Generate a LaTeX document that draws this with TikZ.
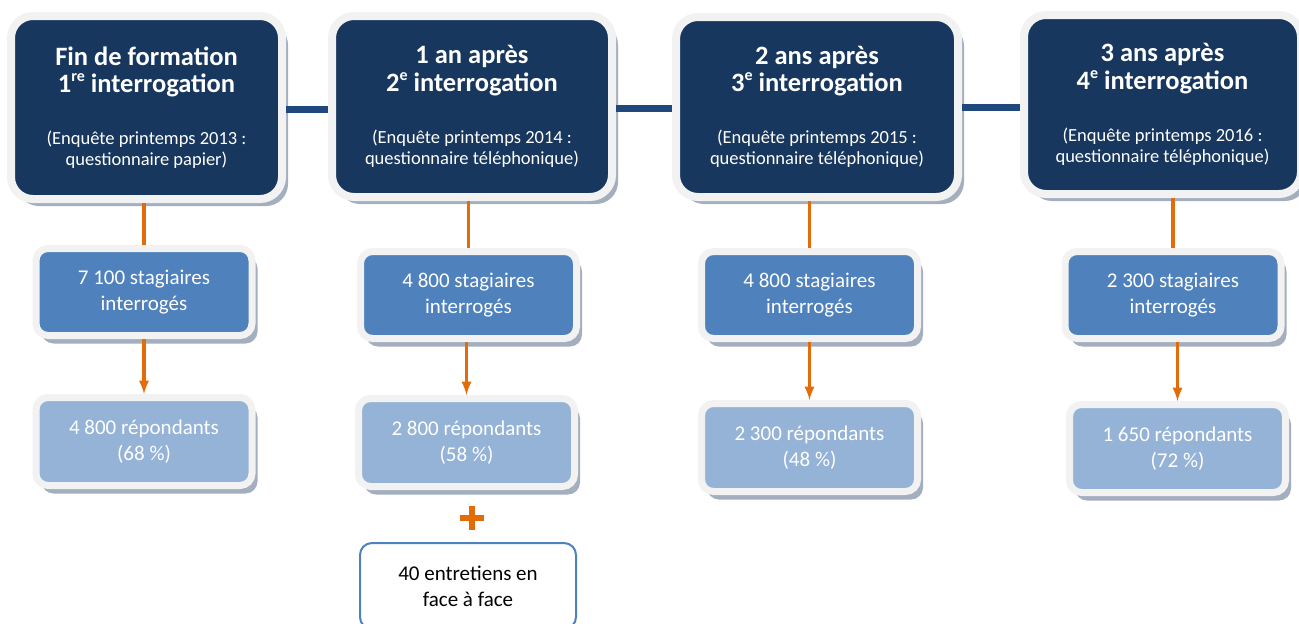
\documentclass[tikz,border=0pt]{standalone}
\usepackage{fontspec}
\setmainfont{Carlito}
\usepackage{tikz}
\usetikzlibrary{calc,shadows}

\definecolor{navy}{HTML}{17375E}
\definecolor{linkblue}{HTML}{1F497D}
\definecolor{midblue}{HTML}{4F81BD}
\definecolor{paleblue}{HTML}{95B3D7}
\definecolor{framegray}{HTML}{F2F2F2}
\definecolor{shadowgray}{HTML}{A3AEBE}
\definecolor{flowor}{HTML}{E36C09}

\newcommand{\surveyline}[1]{{\fontsize{18.5}{21}\selectfont\mdseries #1}}
\newcommand{\ordsup}[1]{\raisebox{0.42em}{\fontsize{16}{16}\selectfont #1}}

\begin{document}
\begin{tikzpicture}[x=1pt,y=-1pt,
 stagebox/.style={rectangle,rounded corners=22pt,fill=navy,draw=framegray,line width=8pt,
   text=white,align=center,font=\fontsize{26.5}{27.5}\selectfont\bfseries,
   drop shadow={shadow xshift=6pt,shadow yshift=-7pt,fill=shadowgray,opacity=1}},
 countbox/.style={rectangle,rounded corners=12pt,fill=midblue,draw=framegray,line width=7pt,
   text=white,align=center,font=\fontsize{21}{26}\selectfont,
   minimum width=216pt,minimum height=87pt,
   drop shadow={shadow xshift=5.5pt,shadow yshift=-8pt,fill=shadowgray,opacity=1}},
 answerbox/.style={countbox,fill=paleblue,minimum height=88pt},
 extrabox/.style={rectangle,rounded corners=12pt,fill=white,draw=midblue,line width=2pt,
   align=center,font=\fontsize{21}{26}\selectfont,minimum width=216pt,minimum height=86pt},
 linkline/.style={linkblue,line width=7pt},
 feedline/.style={flowor,line width=3.5pt},
 plussign/.style={flowor,line width=6pt}]

 \useasboundingbox (0,0) rectangle (1299,624);

 \node[stagebox,minimum width=271pt,minimum height=183pt] (top1) at (146.5,107.5)
  {Fin de formation\\ 1\ordsup{re} interrogation\\[24.5pt]
   \surveyline{(Enquête printemps 2013 :}\\[-6.5pt] \surveyline{questionnaire papier)}};
 \node[stagebox,minimum width=280pt,minimum height=181pt] (top2) at (472,106.5)
  {1 an après\\ 2\ordsup{e} interrogation\\[24.5pt]
   \surveyline{(Enquête printemps 2014 :}\\[-6.5pt] \surveyline{questionnaire téléphonique)}};
 \node[stagebox,minimum width=282pt,minimum height=180pt] (top3) at (817,107)
  {2 ans après\\ 3\ordsup{e} interrogation\\[24.5pt]
   \surveyline{(Enquête printemps 2015 :}\\[-6.5pt] \surveyline{questionnaire téléphonique)}};
 \node[stagebox,minimum width=277pt,minimum height=179pt] (top4) at (1162.5,104.5)
  {3 ans après\\ 4\ordsup{e} interrogation\\[24.5pt]
   \surveyline{(Enquête printemps 2016 :}\\[-6.5pt] \surveyline{questionnaire téléphonique)}};

 \draw[linkline] ([yshift=-1.5pt]top1.east) -- ([yshift=-1.5pt]top1.east -| top2.west);
 \draw[linkline] ([yshift=-1.5pt]top2.east) -- ([yshift=-1.5pt]top2.east -| top3.west);
 \draw[linkline] (top3.east) -- (top3.east -| top4.west);

 \node[countbox] (mid1) at (144,292) {7 100 stagiaires\\ interrogés};
 \node[countbox] (mid2) at (468.5,295) {4 800 stagiaires\\ interrogés};
 \node[countbox] (mid3) at (809.5,295) {4 800 stagiaires\\ interrogés};
 \node[countbox] (mid4) at (1173,295) {2 300 stagiaires\\ interrogés};

 \node[answerbox] (bot1) at (144,441.5) {4 800 répondants\\ (68 \%)};
 \node[answerbox] (bot2) at (466.5,442.5) {2 800 répondants\\ (58 \%)};
 \node[answerbox] (bot3) at (809.5,447.5) {2 300 répondants\\ (48 \%)};
 \node[answerbox] (bot4) at (1177.5,448.5) {1 650 répondants\\ (72 \%)};

 \draw[feedline] (top1.south -| mid1.north) -- (mid1.north);
 \draw[feedline] (top2.south -| mid2.north) -- (mid2.north);
 \draw[feedline] (top3.south -| mid3.north) -- (mid3.north);
 \draw[feedline] (top4.south -| mid4.north) -- (mid4.north);

 \draw[feedline,->,>=latex] (mid1.south -| bot1.north) -- (bot1.north);
 \draw[feedline,->,>=latex] (mid2.south -| bot2.north) -- (bot2.north);
 \draw[feedline,->,>=latex] (mid3.south -| bot3.north) -- (bot3.north);
 \draw[feedline,->,>=latex] (mid4.south -| bot4.north) -- (bot4.north);

 \coordinate (plus) at (472,518);
 \draw[plussign] ([xshift=-12pt]plus) -- ([xshift=12pt]plus);
 \draw[plussign] ([yshift=-12pt]plus) -- ([yshift=12pt]plus);

 \node[extrabox] (faceface) at (468,586) {40 entretiens en\\ face à face};
\end{tikzpicture}
\end{document}
